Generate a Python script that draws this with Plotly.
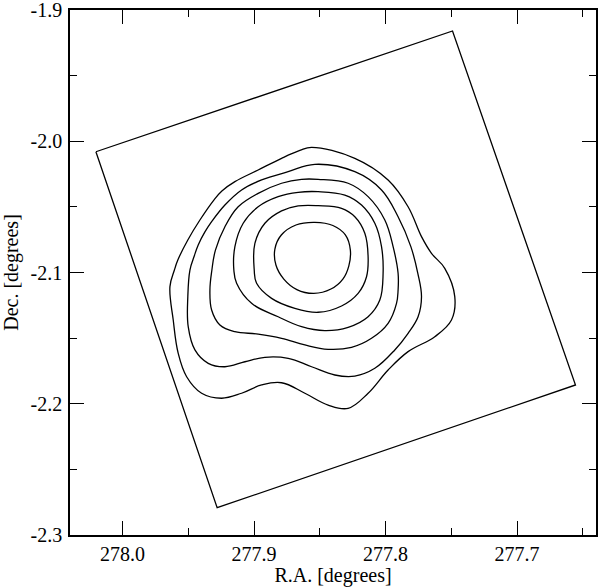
import plotly.graph_objects as go

# field outline (R.A., Dec. of the four corners, closed)
field_ra = [278.0203, 277.7491, 277.6556, 277.9281, 278.0203]
field_dec = [-2.0080, -1.9160, -2.1857, -2.2792, -2.0080]

# contour levels, outermost first
c1_ra = [277.8563, 277.8234, 277.7981, 277.7829, 277.7727, 277.7651, 277.7550, 277.7474,
         277.7499, 277.7626, 277.7829, 277.7981, 277.8133, 277.8285, 277.8437, 277.8614,
         277.8791, 277.8943, 277.9095, 277.9247, 277.9399, 277.9513, 277.9577, 277.9615,
         277.9640, 277.9606, 277.9580, 277.9504, 277.9412, 277.9306, 277.9245, 277.9146,
         277.8969, 277.8791, 277.8652]
c1_dec = [-2.0046, -2.0130, -2.0295, -2.0499, -2.0727, -2.0854, -2.0968, -2.1184,
          -2.1362, -2.1489, -2.1603, -2.1743, -2.1920, -2.2035, -2.2010, -2.1920,
          -2.1840, -2.1857, -2.1920, -2.1958, -2.1920, -2.1794, -2.1616, -2.1362,
          -2.1108, -2.0981, -2.0905, -2.0752, -2.0600, -2.0448, -2.0379, -2.0308,
          -2.0219, -2.0130, -2.0070]

c2_ra = [277.8538, 277.8234, 277.8031, 277.7905, 277.7808, 277.7755, 277.7727, 277.7753,
         277.7829, 277.7930, 277.8082, 277.8234, 277.8386, 277.8563, 277.8741, 277.8918,
         277.9070, 277.9222, 277.9349, 277.9450, 277.9501, 277.9504, 277.9488, 277.9455,
         277.9425, 277.9374, 277.9323, 277.9222, 277.9095, 277.8943, 277.8741]
c2_dec = [-2.0176, -2.0232, -2.0371, -2.0575, -2.0803, -2.1006, -2.1184, -2.1337,
          -2.1463, -2.1590, -2.1730, -2.1789, -2.1781, -2.1718, -2.1654, -2.1646,
          -2.1680, -2.1718, -2.1692, -2.1590, -2.1413, -2.1184, -2.0981, -2.0874,
          -2.0790, -2.0691, -2.0613, -2.0486, -2.0371, -2.0295, -2.0232]

c3_ra = [277.8513, 277.8285, 277.8133, 277.8006, 277.7943, 277.7905, 277.7905, 277.7917,
         277.7981, 277.8107, 277.8259, 277.8437, 277.8614, 277.8791, 277.8969, 277.9146,
         277.9260, 277.9323, 277.9336, 277.9321, 277.9294, 277.9222, 277.9121, 277.8969,
         277.8791, 277.8639]
c3_dec = [-2.0290, -2.0320, -2.0422, -2.0600, -2.0803, -2.1006, -2.1133, -2.1235,
          -2.1387, -2.1501, -2.1570, -2.1585, -2.1552, -2.1501, -2.1469, -2.1451,
          -2.1400, -2.1286, -2.1133, -2.0981, -2.0829, -2.0651, -2.0499, -2.0397,
          -2.0320, -2.0290]

c4_ra = [277.8513, 277.8310, 277.8183, 277.8082, 277.8031, 277.8019, 277.8044, 277.8133,
         277.8285, 277.8462, 277.8639, 277.8817, 277.9019, 277.9133, 277.9154, 277.9146,
         277.9083, 277.8969, 277.8817, 277.8665]
c4_dec = [-2.0384, -2.0410, -2.0486, -2.0625, -2.0803, -2.1006, -2.1210, -2.1337,
          -2.1418, -2.1443, -2.1413, -2.1337, -2.1235, -2.1082, -2.0981, -2.0803,
          -2.0625, -2.0499, -2.0422, -2.0389]

c5_ra = [277.8513, 277.8335, 277.8234, 277.8158, 277.8133, 277.8145, 277.8209, 277.8335,
         277.8513, 277.8690, 277.8867, 277.8981, 277.8999, 277.8994, 277.8918, 277.8791,
         277.8665]
c5_dec = [-2.0491, -2.0511, -2.0575, -2.0701, -2.0880, -2.1032, -2.1159, -2.1255,
          -2.1303, -2.1273, -2.1197, -2.1082, -2.0981, -2.0778, -2.0625, -2.0531,
          -2.0493]

c6_ra = [277.8538, 277.8401, 277.8306, 277.8268, 277.8280, 277.8325, 277.8416, 277.8546,
         277.8675, 277.8774, 277.8834, 277.8842, 277.8793, 277.8682]
c6_dec = [-2.0618, -2.0642, -2.0714, -2.0829, -2.0951, -2.1050, -2.1126, -2.1159,
          -2.1130, -2.1050, -2.0943, -2.0821, -2.0714, -2.0638]

contours = [(c1_ra, c1_dec), (c2_ra, c2_dec), (c3_ra, c3_dec),
            (c4_ra, c4_dec), (c5_ra, c5_dec), (c6_ra, c6_dec)]

ra_ticks = [278.0, 277.9, 277.8, 277.7]
dec_ticks = [-2.3, -2.2, -2.1, -2.0, -1.9]

fig = go.Figure()

fig.add_trace(go.Scatter(x=field_ra, y=field_dec, mode="lines",
                         line=dict(color="black", width=1.3)))

for ra, dec in contours:
    fig.add_trace(go.Scatter(x=ra + ra[:1], y=dec + dec[:1], mode="lines",
                             line=dict(color="black", width=1.3, shape="spline", smoothing=1.1)))

font = dict(family="Liberation Serif", size=20, color="black")

fig.update_layout(
    width=598,
    height=587,
    autosize=False,
    margin=dict(l=70, r=2, t=10, b=52),
    paper_bgcolor="white",
    plot_bgcolor="white",
    showlegend=False,
    font=font,
)

fig.update_xaxes(
    range=[278.04, 277.64],
    tickvals=ra_ticks,
    ticktext=[f"{v:.1f}" for v in ra_ticks],
    ticks="inside", ticklen=14, tickwidth=1.3, tickcolor="black",
    minor=dict(ticks="inside", ticklen=7, tickwidth=1.3, tickcolor="black", dtick=0.05,
               tick0=278.0, showgrid=False),
    showline=True, linecolor="black", linewidth=1.5, mirror="ticks",
    showgrid=False, zeroline=False, automargin=False,
    ticklabeloverflow="allow",
    title=dict(text="R.A. [degrees]", font=font, standoff=0),
    tickfont=font,
)

fig.update_yaxes(
    range=[-2.3, -1.9],
    tickvals=dec_ticks,
    ticktext=[f"{v:.1f}" for v in dec_ticks],
    ticks="inside", ticklen=14, tickwidth=1.3, tickcolor="black",
    minor=dict(ticks="inside", ticklen=7, tickwidth=1.3, tickcolor="black", dtick=0.05,
               tick0=-2.0, showgrid=False),
    showline=True, linecolor="black", linewidth=1.5, mirror="ticks",
    showgrid=False, zeroline=False, automargin=False,
    ticklabeloverflow="allow", ticklabelstandoff=2,
    title=dict(text="Dec. [degrees]", font=font, standoff=10),
    tickfont=font,
)

# drop the default 8px body margin so the figure fills the window
fig.write_html("out.html", config={"displayModeBar": False},
               post_script="document.body.style.margin = '0px';")
